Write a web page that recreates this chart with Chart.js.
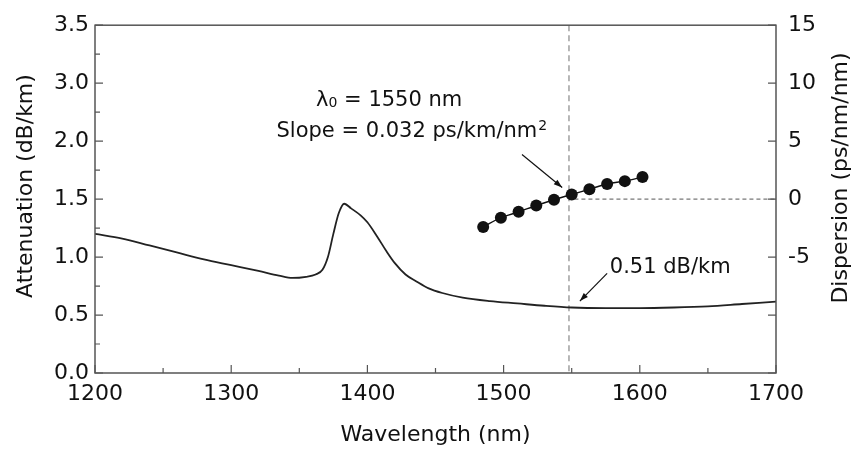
<!DOCTYPE html>
<html>
<head>
<meta charset="utf-8">
<script src="https://cdn.jsdelivr.net/npm/chart.js@4"></script>
<style>
html, body { margin: 0; padding: 0; background: #fff; }
</style>
</head>
<body>
<canvas id="myChart" width="858" height="450"></canvas>
<script>
// attenuation spectrum
const wavelength = [1200, 1220, 1240, 1260, 1280, 1300, 1320, 1335, 1345, 1355, 1362, 1367, 1371, 1375, 1379,
    1383, 1388, 1395, 1400, 1407, 1414, 1420, 1428, 1436, 1445, 1455, 1470, 1490, 1510, 1530, 1550,
    1575, 1600, 1625, 1650, 1675, 1700];
const attenuation = [1.20, 1.16, 1.10, 1.04, 0.98, 0.93, 0.88, 0.84, 0.82, 0.83, 0.85, 0.89, 1.00, 1.20, 1.38,
    1.46, 1.42, 1.36, 1.30, 1.18, 1.05, 0.95, 0.85, 0.79, 0.73, 0.69, 0.65, 0.62, 0.60, 0.58, 0.565,
    0.56, 0.56, 0.565, 0.575, 0.595, 0.615];

// measured dispersion points
const dispWavelength = [1485, 1498, 1511, 1524, 1537, 1550, 1563, 1576, 1589, 1602];
const dispersion = [-2.4, -1.6, -1.1, -0.55, -0.05, 0.4, 0.85, 1.3, 1.55, 1.9];

const attTicks = [0, 0.5, 1.0, 1.5, 2.0, 2.5, 3.0];
const attTickLabels = ['0.0', '0.5', '1.0', '1.5', '2.0', '3.0', '3.5'];
const dispTicks = [-15, -10, -5, 0, 5, 10, 15];
const dispTickLabels = ['', '', '-5', '0', '5', '10', '15'];
const wlTicks = [1200, 1300, 1400, 1500, 1600, 1700];

const zeroWavelength = 1548;

const FONT = '"DejaVu Sans", sans-serif';

function arrow(ctx, x1, y1, x2, y2) {
    ctx.beginPath();
    ctx.moveTo(x1, y1);
    ctx.lineTo(x2, y2);
    ctx.stroke();
    const a = Math.atan2(y2 - y1, x2 - x1), h = 9;
    ctx.beginPath();
    ctx.moveTo(x2, y2);
    ctx.lineTo(x2 - h * Math.cos(a - 0.33), y2 - h * Math.sin(a - 0.33));
    ctx.lineTo(x2 - h * Math.cos(a + 0.33), y2 - h * Math.sin(a + 0.33));
    ctx.closePath();
    ctx.fill();
}

const extras = {
    id: 'extras',
    beforeDatasetsDraw(chart) {
        const ctx = chart.ctx, a = chart.chartArea;
        const x = chart.scales.x, y2 = chart.scales.y2;
        ctx.save();
        // vertical line at zero-dispersion wavelength
        ctx.strokeStyle = '#888';
        ctx.lineWidth = 1.2;
        ctx.setLineDash([6, 4]);
        ctx.beginPath();
        ctx.moveTo(x.getPixelForValue(zeroWavelength), a.top);
        ctx.lineTo(x.getPixelForValue(zeroWavelength), a.bottom);
        ctx.stroke();
        // zero dispersion level
        ctx.strokeStyle = '#555';
        ctx.lineWidth = 1;
        ctx.setLineDash([4, 3]);
        ctx.beginPath();
        ctx.moveTo(x.getPixelForValue(1552), y2.getPixelForValue(0));
        ctx.lineTo(a.right, y2.getPixelForValue(0));
        ctx.stroke();
        ctx.restore();
    },
    afterDraw(chart) {
        const ctx = chart.ctx, a = chart.chartArea;
        const x = chart.scales.x, y = chart.scales.y, y2 = chart.scales.y2;
        ctx.save();
        // frame
        ctx.strokeStyle = '#555';
        ctx.lineWidth = 1.5;
        ctx.strokeRect(a.left, a.top, a.right - a.left, a.bottom - a.top);
        // inward ticks
        ctx.lineWidth = 1.2;
        ctx.beginPath();
        for (let v = 0; v <= 3.0001; v += 0.25) {
            const py = y.getPixelForValue(v);
            const len = Math.abs(v * 2 - Math.round(v * 2)) < 0.01 ? 8 : 5;
            ctx.moveTo(a.left, py);
            ctx.lineTo(a.left + len, py);
        }
        for (let v = 1200; v <= 1700; v += 50) {
            const px = x.getPixelForValue(v);
            const len = v % 100 === 0 ? 8 : 5;
            ctx.moveTo(px, a.bottom);
            ctx.lineTo(px, a.bottom - len);
        }
        dispTicks.forEach(v => {
            const py = y2.getPixelForValue(v);
            ctx.moveTo(a.right, py);
            ctx.lineTo(a.right - 8, py);
        });
        ctx.stroke();

        // axis titles
        ctx.fillStyle = '#111';
        ctx.font = '22px ' + FONT;
        ctx.textAlign = 'center';
        ctx.textBaseline = 'middle';
        ctx.fillText('Wavelength (nm)', (a.left + a.right) / 2, 435);
        ctx.save();
        ctx.translate(26, 186);
        ctx.rotate(-Math.PI / 2);
        ctx.fillText('Attenuation (dB/km)', 0, 0);
        ctx.restore();
        ctx.save();
        ctx.translate(841, 178);
        ctx.rotate(-Math.PI / 2);
        ctx.fillText('Dispersion (ps/nm/nm)', 0, 0);
        ctx.restore();

        // annotations
        ctx.textAlign = 'left';
        ctx.textBaseline = 'alphabetic';
        const big = '21px ' + FONT, small = '14px ' + FONT;
        // lambda0 line
        let cx = x.getPixelForValue(1416), by = y.getPixelForValue(2.37) + 8;
        ctx.font = big;
        const w1 = ctx.measureText('\u03bb').width;
        const w3 = ctx.measureText(' = 1550 nm').width;
        ctx.font = small;
        const w2 = ctx.measureText('0').width;
        let sx = cx - (w1 + w2 + w3) / 2;
        ctx.font = big;
        ctx.fillText('\u03bb', sx, by);
        ctx.font = small;
        ctx.fillText('0', sx + w1, by + 1);
        ctx.font = big;
        ctx.fillText(' = 1550 nm', sx + w1 + w2, by);
        // slope line, right end just left of the dashed line
        by = y.getPixelForValue(2.105) + 8;
        ctx.font = big;
        const s1 = ctx.measureText('Slope = 0.032 ps/km/nm').width;
        ctx.font = small;
        const s2 = ctx.measureText('2').width;
        sx = x.getPixelForValue(1532) - (s1 + s2 + 1);
        ctx.font = big;
        ctx.fillText('Slope = 0.032 ps/km/nm', sx, by);
        ctx.font = small;
        ctx.fillText('2', sx + s1 + 1, by - 7);
        // min attenuation label
        ctx.font = big;
        ctx.fillText('0.51 dB/km', x.getPixelForValue(1578), y.getPixelForValue(0.93) + 8);

        ctx.strokeStyle = '#111';
        ctx.fillStyle = '#111';
        ctx.lineWidth = 1.2;
        arrow(ctx, x.getPixelForValue(1513.5), y.getPixelForValue(1.885),
            x.getPixelForValue(1543), y.getPixelForValue(1.60));
        arrow(ctx, x.getPixelForValue(1576), y.getPixelForValue(0.86),
            x.getPixelForValue(1556), y.getPixelForValue(0.62));
        ctx.restore();
    }
};

const data = {
    datasets: [{
        label: 'Attenuation',
        data: wavelength.map((w, i) => ({ x: w, y: attenuation[i] })),
        yAxisID: 'y',
        borderColor: '#222',
        borderWidth: 1.8,
        pointRadius: 0,
        cubicInterpolationMode: 'monotone',
        fill: false,
    }, {
        label: 'Dispersion',
        data: dispWavelength.map((w, i) => ({ x: w, y: dispersion[i] })),
        yAxisID: 'y2',
        borderColor: '#111',
        borderWidth: 1.5,
        backgroundColor: '#111',
        pointRadius: 6,
        pointBorderWidth: 0,
        tension: 0.3,
        fill: false,
    }]
};

const tickFont = { family: FONT, size: 22 };

const config = {
    type: 'line',
    data: data,
    plugins: [extras],
    options: {
        responsive: false,
        animation: false,
        devicePixelRatio: 1,
        layout: { padding: { top: 21, left: 0, right: 0, bottom: 0 } },
        plugins: {
            legend: { display: false },
            tooltip: { enabled: false },
        },
        scales: {
            x: {
                type: 'linear',
                min: 1200,
                max: 1700,
                afterFit: s => { s.height = 77; },
                afterBuildTicks: s => { s.ticks = wlTicks.map(v => ({ value: v })); },
                grid: { display: false, drawTicks: false },
                border: { display: false },
                ticks: { font: tickFont, color: '#111', padding: 8, maxRotation: 0,
                    callback: v => String(v) },
            },
            y: {
                position: 'left',
                min: 0,
                max: 3.0,
                afterFit: s => { s.width = 95; },
                afterBuildTicks: s => { s.ticks = attTicks.map(v => ({ value: v })); },
                grid: { display: false, drawTicks: false },
                border: { display: false },
                ticks: { font: tickFont, color: '#111', padding: 6,
                    callback: v => attTickLabels[attTicks.indexOf(v)] },
            },
            y2: {
                position: 'right',
                min: -15,
                max: 15,
                afterFit: s => { s.width = 82; },
                afterBuildTicks: s => { s.ticks = dispTicks.map(v => ({ value: v })); },
                grid: { display: false, drawTicks: false },
                border: { display: false },
                ticks: { font: tickFont, color: '#111', padding: 12,
                    callback: v => dispTickLabels[dispTicks.indexOf(v)] },
            }
        }
    }
};

const myChart = new Chart(document.getElementById('myChart'), config);
</script>
</body>
</html>
